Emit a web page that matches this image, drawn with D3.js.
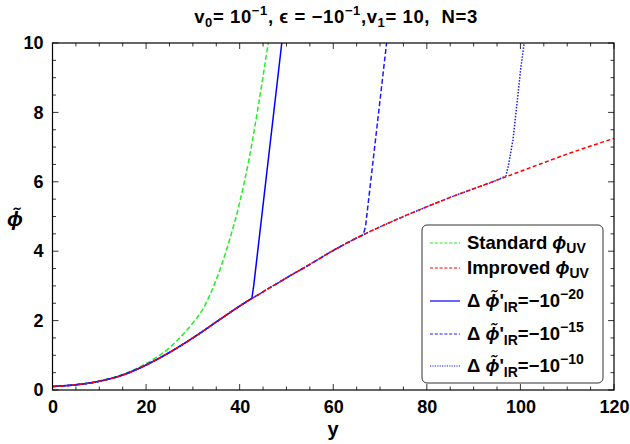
<!DOCTYPE html>
<html><head><meta charset="utf-8">
<script src="https://cdn.jsdelivr.net/npm/d3@7"></script>
<style>
body{margin:0;background:#fff;}
text{font-family:"Liberation Sans",Arial,sans-serif;font-weight:bold;fill:#000;}
</style></head>
<body><svg id="c" width="630" height="444"></svg>
<script>
// ---- data ----
const improvedY = [0,5,10,15,20,25,30,35,40,45,50,55,60,65,70,75,80,85,90,95,100,105,110,115,120];
const improvedPhi = [0.10,0.15,0.25,0.43,0.72,1.08,1.50,1.96,2.42,2.83,3.23,3.62,4.02,4.38,4.70,5.00,5.28,5.55,5.80,6.05,6.30,6.55,6.80,7.03,7.25];
const standardY = [0,5,10,15,20,25,28,30,32,34,36,38,40,42,44,46.1];
const standardPhi = [0.10,0.15,0.26,0.45,0.76,1.22,1.62,1.93,2.3,2.85,3.55,4.4,5.4,6.65,8.2,10];
// departures of the IR-shooted solutions from the improved UV curve
const ir20Y = [42.6,43.0,49.0];   const ir20Phi = [2.64,3.0,10];
const ir15Y = [66.4,66.9,71.4]; const ir15Phi = [4.47,4.71,10];
const ir10Y = [96.9,97.4,98.4,99.3,100.1,100.8]; const ir10Phi = [6.17,6.45,7.2,8.3,9.3,10];
const xTicks = [0,20,40,60,80,100,120];
const yTicks = [0,2,4,6,8,10];
const legendLabels = ["Standard","Improved","−20","−15","−10"];

const svg = d3.select("#c");
const L=52.5, R=614, T=43, B=390;
const x = d3.scaleLinear().domain([0,120]).range([L,R]);
const y = d3.scaleLinear().domain([0,10]).range([B,T]);

svg.append("defs").append("clipPath").attr("id","clip")
  .append("rect").attr("x",L).attr("y",T).attr("width",R-L).attr("height",B-T);

const zip=(a,b)=>a.map((v,i)=>[v,b[i]]);
const improved = zip(improvedY,improvedPhi);
const smooth = d3.line().x(d=>x(d[0])).y(d=>y(d[1])).curve(d3.curveMonotoneX);
const straight = d3.line().x(d=>x(d[0])).y(d=>y(d[1]));
function irPath(ys,ps){
  const pre = improved.filter(d=>d[0]<ys[0]).concat([[ys[0],ps[0]]]);
  const post = zip(ys,ps);
  return smooth(pre) + straight(post).replace(/^M/,"L");
}

const series = [
  {p: smooth(zip(standardY,standardPhi)), c:"#22ee22", dash:"5,2.5"},
  {p: irPath(ir20Y,ir20Phi), c:"#0000ff", dash:null},
  {p: irPath(ir15Y,ir15Phi), c:"#1a1aff", dash:"5,2.5"},
  {p: irPath(ir10Y,ir10Phi), c:"#1a1aff", dash:"1.5,1.5"},
  {p: smooth(improved), c:"#ff0000", dash:"4,2.5"}
];
const g = svg.append("g").attr("clip-path","url(#clip)");
series.forEach(s=>{
  g.append("path").attr("d",s.p).attr("fill","none")
   .attr("stroke",s.c).attr("stroke-width",1.5).attr("stroke-dasharray",s.dash);
});

// axes
const xa = svg.append("g").attr("transform",`translate(0,${B})`)
  .call(d3.axisBottom(x).tickValues(xTicks).tickSize(0).tickPadding(10).tickFormat(d3.format("d")));
xa.select(".domain").remove();
xa.selectAll("text").attr("font-size",18);
const ya = svg.append("g").attr("transform",`translate(${L},0)`)
  .call(d3.axisLeft(y).tickValues(yTicks).tickSize(0).tickPadding(9));
ya.select(".domain").remove();
ya.selectAll("text").attr("font-size",18);

svg.append("rect").attr("x",L).attr("y",T).attr("width",R-L).attr("height",B-T)
  .attr("fill","none").attr("stroke","#000").attr("stroke-width",1.2);
const tk = svg.append("g").attr("stroke","#000").attr("stroke-width",0.8);
d3.range(0,121,5).forEach(v=>{
  const len = v%20===0?6:3.5;
  tk.append("line").attr("x1",x(v)).attr("x2",x(v)).attr("y1",B).attr("y2",B-len);
  tk.append("line").attr("x1",x(v)).attr("x2",x(v)).attr("y1",T).attr("y2",T+len);
});
d3.range(0,10.01,0.5).forEach(v=>{
  const len = Math.abs(v/2-Math.round(v/2))<1e-6?6:3.5;
  tk.append("line").attr("y1",y(v)).attr("y2",y(v)).attr("x1",L).attr("x2",L+len);
  tk.append("line").attr("y1",y(v)).attr("y2",y(v)).attr("x1",R).attr("x2",R-len);
});

// axis labels
svg.append("text").attr("x",333).attr("y",436).attr("text-anchor","middle").attr("font-size",20).text("y");
svg.append("text").attr("x",15).attr("y",226).attr("text-anchor","middle").attr("font-size",21)
  .attr("font-style","italic").text("ϕ\u0303");

// title
const tt = svg.append("text").attr("x",336).attr("y",23).attr("text-anchor","middle").attr("font-size",18.5)
  .attr("letter-spacing",0.6);
tt.append("tspan").text("v");
tt.append("tspan").attr("dy",4).attr("font-size",13).text("0");
tt.append("tspan").attr("dy",-4).text("= 10");
tt.append("tspan").attr("dy",-8).attr("font-size",13).text("−1");
tt.append("tspan").attr("dy",8).text(", ϵ = −10");
tt.append("tspan").attr("dy",-8).attr("font-size",13).text("−1");
tt.append("tspan").attr("dy",8).text(",v");
tt.append("tspan").attr("dy",4).attr("font-size",13).text("1");
tt.append("tspan").attr("dy",-4).text("= 10,\u00a0\u00a0N=3");

// legend
svg.append("rect").attr("x",422).attr("y",225).attr("width",181).attr("height",158)
  .attr("rx",5).attr("fill","#fff").attr("stroke","#333").attr("stroke-width",1);
const rowsY=[243,268,301,334,366];
const legStyles=[series[0],series[4],series[1],series[2],series[3]];
legStyles.forEach((s,i)=>{
  svg.append("line").attr("x1",430).attr("x2",460).attr("y1",rowsY[i]).attr("y2",rowsY[i])
    .attr("stroke",s.c).attr("stroke-width",1.2).attr("stroke-dasharray",s.dash?(i===4?"1.2,1.2":"3,1.8"):null);
  const t = svg.append("text").attr("x",467).attr("y",rowsY[i]+6).attr("font-size",18.5);
  if(i<2){
    t.append("tspan").text(legendLabels[i]+" ");
    t.append("tspan").attr("font-style","italic").text("ϕ");
    t.append("tspan").attr("dy",4).attr("font-size",14).text("UV");
  } else {
    t.append("tspan").text("Δ ");
    t.append("tspan").attr("font-style","italic").text("ϕ\u0303");
    t.append("tspan").text("'");
    t.append("tspan").attr("dy",5).attr("font-size",14).text("IR");
    t.append("tspan").attr("dy",-5).text("=−10");
    t.append("tspan").attr("dy",-8).attr("font-size",14).text(legendLabels[i]);
  }
});
</script></body></html>
